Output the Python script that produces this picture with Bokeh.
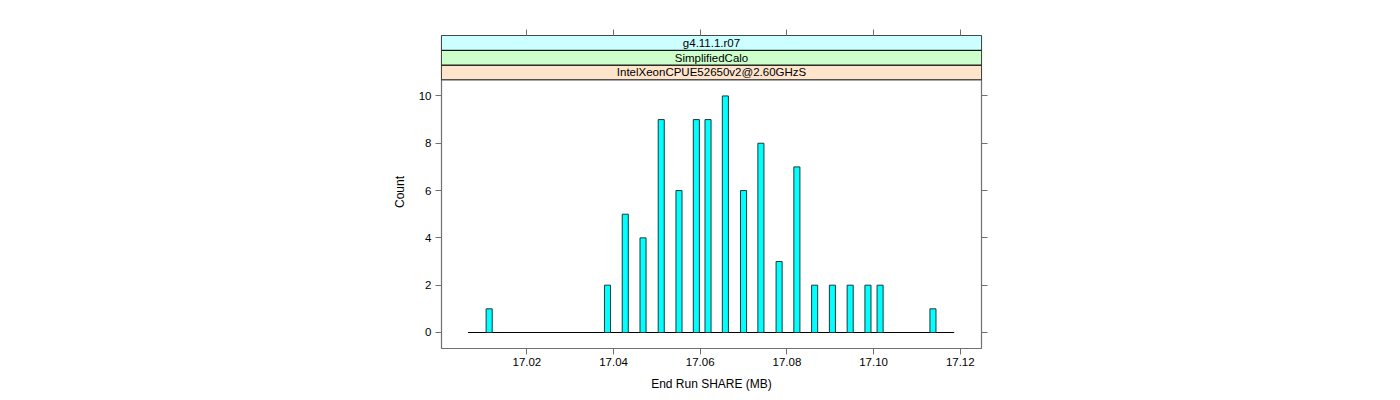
from bokeh.plotting import figure
from bokeh.models import Range1d, FixedTicker, PrintfTickFormatter, LinearAxis, ColumnDataSource
from bokeh.core.properties import value
from bokeh.embed import file_html
from bokeh.resources import INLINE

# Data
share_mb = [17.0113, 17.0386, 17.0427, 17.0468, 17.0510, 17.0551, 17.0591, 17.0618,
            17.0658, 17.0700, 17.0740, 17.0782, 17.0823, 17.0864, 17.0905, 17.0946,
            17.0987, 17.1015, 17.1137]
counts = [1, 2, 5, 4, 9, 6, 9, 9, 10, 6, 8, 3, 7, 2, 2, 2, 2, 2, 1]
x_ticks = [17.02, 17.04, 17.06, 17.08, 17.10, 17.12]
y_ticks = [0, 2, 4, 6, 8, 10]
strip_labels = ["IntelXeonCPUE52650v2@2.60GHzS", "SimplifiedCalo", "g4.11.1.r07"]
strip_colors = ["#ffe5cc", "#ccffcc", "#ccffff"]

FONT = "Liberation Sans"
GREY = "#707070"

bar_w = 0.0014
panel_top = 10.68
strip_h = 0.625

p = figure(frame_width=540, frame_height=313,
           x_range=Range1d(17.0003, 17.1249),
           y_range=Range1d(-0.677, panel_top + 3 * strip_h),
           output_backend="svg", toolbar_location=None,
           min_border_left=441, min_border_top=35, min_border_bottom=47, min_border_right=400,
           x_axis_location=None, y_axis_location=None)
p.grid.visible = False
p.outline_line_color = GREY
p.outline_line_width = 1.2
p.background_fill_color = "white"
p.border_fill_color = "white"

# baseline
x0 = min(share_mb) - 0.0049
x1 = max(share_mb) + 0.0049
p.line([x0, x1], [0, 0], line_color="black", line_width=1.2)

# bars
src = ColumnDataSource(dict(x=share_mb, top=counts))
p.vbar(x="x", top="top", bottom=0, width=bar_w, source=src,
       fill_color="#00ffff", line_color="#1a3a3a", line_width=1)

# strips
for i, (lab, col) in enumerate(zip(strip_labels, strip_colors)):
    b = panel_top + i * strip_h
    p.quad(left=p.x_range.start, right=p.x_range.end, bottom=b, top=b + strip_h,
           fill_color=col, line_color="black", line_width=1)
    p.text(x=[(p.x_range.start + p.x_range.end) / 2], y=[b + strip_h / 2], text=[lab],
           text_font=value(FONT), text_font_size="11.5px", text_align="center",
           text_baseline="middle", text_color="black")

def style(ax, labels=True):
    ax.axis_line_color = None
    ax.major_tick_line_color = GREY
    ax.major_tick_out = 6
    ax.major_tick_in = 0
    ax.minor_tick_line_color = None
    ax.major_label_text_font = FONT
    ax.major_label_text_font_size = "11.5px"
    ax.major_label_text_color = "black"
    ax.axis_label_text_font = FONT
    ax.axis_label_text_font_size = "12px"
    ax.axis_label_text_font_style = "normal"
    ax.axis_label_text_color = "black"
    if not labels:
        ax.major_label_text_font_size = "0px"
        ax.major_label_text_color = None

bottom = LinearAxis(ticker=FixedTicker(ticks=x_ticks), formatter=PrintfTickFormatter(format="%.2f"),
                    axis_label="End Run SHARE (MB)")
style(bottom)
bottom.major_label_standoff = 3
bottom.axis_label_standoff = 8
p.add_layout(bottom, "below")

top = LinearAxis(ticker=FixedTicker(ticks=x_ticks))
style(top, labels=False)
p.add_layout(top, "above")

left = LinearAxis(ticker=FixedTicker(ticks=y_ticks), axis_label="Count")
style(left)
left.major_label_standoff = 4
left.axis_label_standoff = 9
p.add_layout(left, "left")

right = LinearAxis(ticker=FixedTicker(ticks=y_ticks))
style(right, labels=False)
p.add_layout(right, "right")

open("out.html", "w").write(file_html(p, INLINE))
